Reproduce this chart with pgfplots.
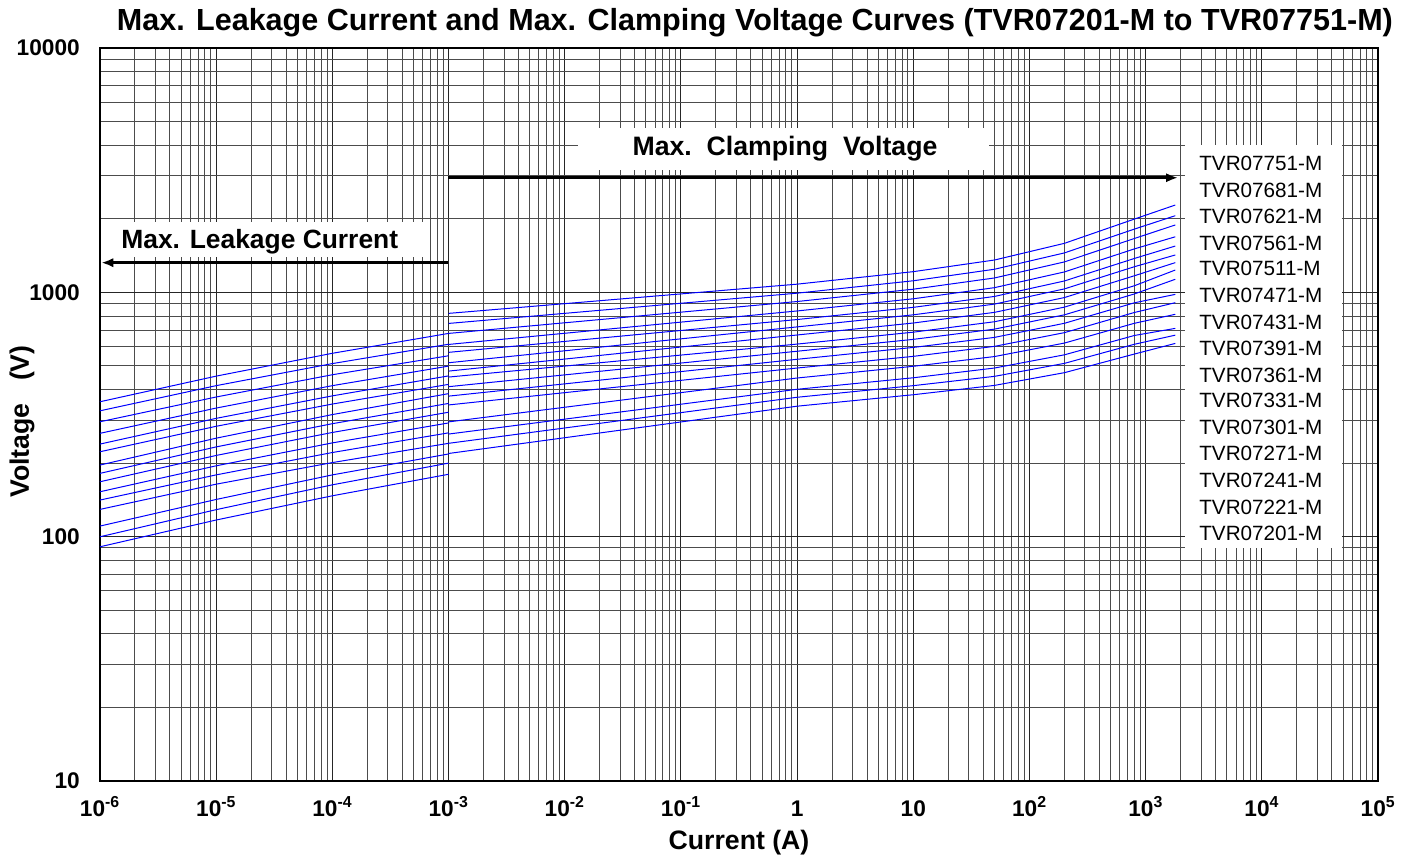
\documentclass[border=0pt]{standalone}
\usepackage{pgfplots}
\pgfplotsset{compat=1.18}
\usetikzlibrary{arrows.meta}
\usepackage{fontspec}
\setmainfont{Liberation Sans}
\definecolor{curve}{RGB}{0,0,255}
\tikzset{lab/.style={anchor=west, inner sep=0pt, font=\fontsize{15.5}{17}\selectfont}}
\begin{document}
\begin{tikzpicture}
\path[use as bounding box] (0pt,0pt) rectangle (1053.75pt,642.75pt);
\begin{axis}[
  at={(75pt,57pt)}, anchor=south west,
  scale only axis, width=958.5pt, height=549.75pt,
  xmode=log, ymode=log,
  xmin=1e-6, xmax=1e5, ymin=10, ymax=10000,
  xtick={1e-6,1e-5,1e-4,1e-3,1e-2,1e-1,1,10,100,1000,10000,100000},
  xticklabels={10\textsuperscript{-6},10\textsuperscript{-5},10\textsuperscript{-4},10\textsuperscript{-3},10\textsuperscript{-2},10\textsuperscript{-1},1,10,10\textsuperscript{2},10\textsuperscript{3},10\textsuperscript{4},10\textsuperscript{5}},
  ytick={10,100,1000,10000},
  yticklabels={10,100,1000,10000},
  ticklabel style={font=\bfseries\fontsize{17}{19}\selectfont},
  xticklabel style={anchor=base, inner sep=0pt, yshift=-26.4pt},
  yticklabel style={anchor=east, inner sep=0pt, xshift=-15pt},
  major tick length=0pt, minor tick length=0pt,
  grid=both,
  major grid style={black!85, line width=0.8pt},
  minor grid style={black!70, line width=0.7pt},
  axis line style={line width=1.1pt},
  title={Max. Leakage Current and Max. Clamping Voltage Curves (TVR07201-M to TVR07751-M)},
  title style={font=\bfseries\fontsize{22.9}{25}\selectfont, at={(rel axis cs:0.5125,1)}, yshift=13pt, anchor=center},
  xlabel={Current (A)},
  ylabel={Voltage\ \ \ (V)},
  every axis x label/.style={at={(rel axis cs:0.5,0)}, yshift=-46pt, anchor=center, font=\bfseries\fontsize{20}{22}\selectfont},
  every axis y label/.style={at={(rel axis cs:0,0.4905)}, xshift=-58.5pt, rotate=90, anchor=center, font=\bfseries\fontsize{20}{22}\selectfont},
  clip=false,
]
% max. leakage current, 1e-6 .. 1e-3 A (TVR07751 first)
\addplot[curve, line width=0.75pt] coordinates {(1e-6,356.6) (1e-5,454) (1e-4,563) (1e-3,679)};
\addplot[curve, line width=0.75pt] coordinates {(1e-6,327.4) (1e-5,415) (1e-4,511) (1e-3,613)};
\addplot[curve, line width=0.75pt] coordinates {(1e-6,295.3) (1e-5,373) (1e-4,460) (1e-3,550)};
\addplot[curve, line width=0.75pt] coordinates {(1e-6,264.8) (1e-5,336) (1e-4,415) (1e-3,499)};
\addplot[curve, line width=0.75pt] coordinates {(1e-6,239.3) (1e-5,305) (1e-4,377) (1e-3,455)};
\addplot[curve, line width=0.75pt] coordinates {(1e-6,222.6) (1e-5,283) (1e-4,349) (1e-3,420)};
\addplot[curve, line width=0.75pt] coordinates {(1e-6,196.4) (1e-5,253) (1e-4,316) (1e-3,385)};
\addplot[curve, line width=0.75pt] coordinates {(1e-6,181.6) (1e-5,233) (1e-4,290) (1e-3,351)};
\addplot[curve, line width=0.75pt] coordinates {(1e-6,167.8) (1e-5,215) (1e-4,267) (1e-3,323)};
\addplot[curve, line width=0.75pt] coordinates {(1e-6,152.7) (1e-5,195) (1e-4,242) (1e-3,292)};
\addplot[curve, line width=0.75pt] coordinates {(1e-6,141.2) (1e-5,179) (1e-4,221) (1e-3,266)};
\addplot[curve, line width=0.75pt] coordinates {(1e-6,129.3) (1e-5,164) (1e-4,201) (1e-3,241)};
\addplot[curve, line width=0.75pt] coordinates {(1e-6,110.5) (1e-5,142) (1e-4,179) (1e-3,218)};
\addplot[curve, line width=0.75pt] coordinates {(1e-6,99.9) (1e-5,129) (1e-4,163) (1e-3,200)};
\addplot[curve, line width=0.75pt] coordinates {(1e-6,90.9) (1e-5,117) (1e-4,147) (1e-3,180)};
% max. clamping voltage, 1e-3 .. 1800 A
\addplot[curve, line width=0.75pt] coordinates {(1e-3,820) (1,1080) (10,1215) (50,1356) (200,1587) (800,1995) (1800,2277)};
\addplot[curve, line width=0.75pt] coordinates {(1e-3,746) (1,992) (10,1115) (50,1243) (200,1450) (800,1815) (1800,2059)};
\addplot[curve, line width=0.75pt] coordinates {(1e-3,679) (1,917) (10,1030) (50,1145) (200,1332) (800,1661) (1800,1887)};
\addplot[curve, line width=0.75pt] coordinates {(1e-3,612) (1,839) (10,941) (50,1045) (200,1212) (800,1506) (1800,1688)};
\addplot[curve, line width=0.75pt] coordinates {(1e-3,568) (1,774) (10,868) (50,962) (200,1113) (800,1376) (1800,1547)};
\addplot[curve, line width=0.75pt] coordinates {(1e-3,515) (1,722) (10,809) (50,895) (200,1033) (800,1273) (1800,1422)};
\addplot[curve, line width=0.75pt] coordinates {(1e-3,476) (1,669) (10,749) (50,828) (200,952) (800,1169) (1800,1323)};
\addplot[curve, line width=0.75pt] coordinates {(1e-3,450) (1,614) (10,687) (50,758) (200,870) (800,1064) (1800,1234)};
\addplot[curve, line width=0.75pt] coordinates {(1e-3,411) (1,574) (10,642) (50,707) (200,809) (800,985) (1800,1131)};
\addplot[curve, line width=0.75pt] coordinates {(1e-3,376) (1,532) (10,595) (50,654) (200,747) (800,906) (1800,981)};
\addplot[curve, line width=0.75pt] coordinates {(1e-3,346) (1,490) (10,547) (50,601) (200,684) (800,827) (1800,907)};
\addplot[curve, line width=0.75pt] coordinates {(1e-3,295) (1,446) (10,498) (50,546) (200,620) (800,747) (1800,813)};
\addplot[curve, line width=0.75pt] coordinates {(1e-3,263) (1,401) (10,447) (50,490) (200,555) (800,666) (1800,712)};
\addplot[curve, line width=0.75pt] coordinates {(1e-3,241) (1,372) (10,415) (50,453) (200,512) (800,613) (1800,668)};
\addplot[curve, line width=0.75pt] coordinates {(1e-3,219) (1,342) (10,381) (50,416) (200,469) (800,559) (1800,618)};

% annotations
\fill[white] (rel axis cs:0.374,0.8336) rectangle (rel axis cs:0.696,0.8909);
\node[font=\bfseries\fontsize{20}{22}\selectfont] at (rel axis cs:0.536,0.8622) {Max.\ \ Clamping\ \ Voltage};
\draw[line width=2.2pt, -{Latex[length=9pt,width=7pt]}] (rel axis cs:0.2723,0.823) -- (rel axis cs:0.8435,0.823);
\fill[white] (rel axis cs:0.001,0.7149) rectangle (rel axis cs:0.2527,0.7626);
\node[font=\bfseries\fontsize{19.8}{22}\selectfont] at (rel axis cs:0.125,0.7353) {Max. Leakage Current};
\draw[line width=2.2pt, -{Latex[length=9pt,width=7pt]}] (rel axis cs:0.2723,0.7071) -- (rel axis cs:0.001,0.7071);
\fill[white] (rel axis cs:0.849,0.318) rectangle (rel axis cs:0.972,0.868);
\node[lab] at (rel axis cs:0.860,0.8431) {TVR07751-M};
\node[lab] at (rel axis cs:0.860,0.8063) {TVR07681-M};
\node[lab] at (rel axis cs:0.860,0.7708) {TVR07621-M};
\node[lab] at (rel axis cs:0.860,0.7340) {TVR07561-M};
\node[lab] at (rel axis cs:0.860,0.6999) {TVR07511-M};
\node[lab] at (rel axis cs:0.860,0.6631) {TVR07471-M};
\node[lab] at (rel axis cs:0.860,0.6262) {TVR07431-M};
\node[lab] at (rel axis cs:0.860,0.5907) {TVR07391-M};
\node[lab] at (rel axis cs:0.860,0.5539) {TVR07361-M};
\node[lab] at (rel axis cs:0.860,0.5198) {TVR07331-M};
\node[lab] at (rel axis cs:0.860,0.4829) {TVR07301-M};
\node[lab] at (rel axis cs:0.860,0.4475) {TVR07271-M};
\node[lab] at (rel axis cs:0.860,0.4106) {TVR07241-M};
\node[lab] at (rel axis cs:0.860,0.3738) {TVR07221-M};
\node[lab] at (rel axis cs:0.860,0.3383) {TVR07201-M};
\end{axis}
\end{tikzpicture}
\end{document}
